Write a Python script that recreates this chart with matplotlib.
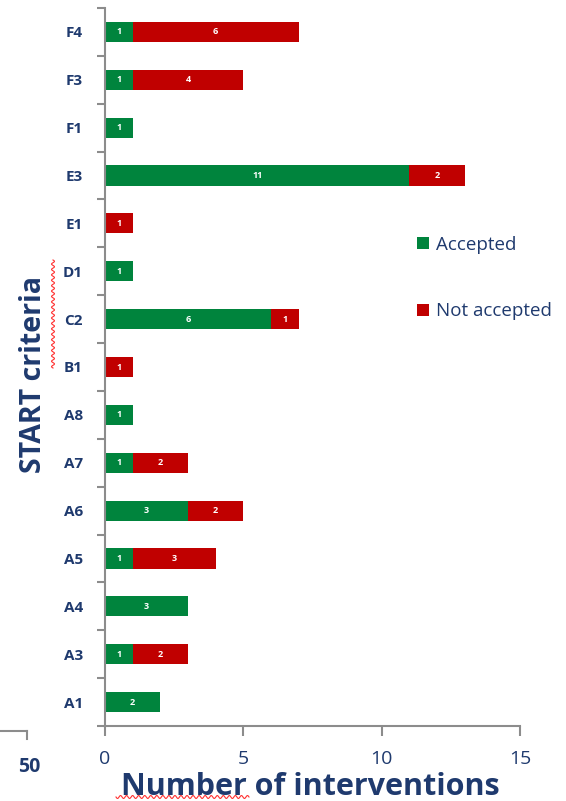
import numpy as np
import matplotlib.pyplot as plt
from matplotlib.lines import Line2D

criteria = ['A1', 'A3', 'A4', 'A5', 'A6', 'A7', 'A8', 'B1', 'C2', 'D1', 'E1', 'E3', 'F1', 'F3', 'F4']
accepted = [2, 1, 3, 1, 3, 1, 1, 0, 6, 1, 0, 11, 1, 1, 1]
not_accepted = [0, 2, 0, 3, 2, 2, 0, 1, 1, 0, 1, 2, 0, 4, 6]
x_ticks = [0, 5, 10, 15]

GREEN = '#00843D'
RED = '#C00000'
NAVY = '#1F3A6E'
GREY = '#8C8C8C'

plt.rcParams['font.family'] = ['Open Sans', 'DejaVu Sans']

fig = plt.figure(figsize=(5.66, 8.01), dpi=100)
W, H = 566, 801
ax = fig.add_axes([105 / W, 1 - 726 / H, 415 / W, 718 / H])

y = np.arange(len(criteria))
acc = np.array(accepted)
nacc = np.array(not_accepted)
ax.barh(y, acc, height=0.42, color=GREEN, label='Accepted')
ax.barh(y, nacc, left=acc, height=0.42, color=RED, label='Not accepted')

# value labels inside the segments
for i in range(len(criteria)):
    if acc[i] > 0:
        ax.text(acc[i] / 2, y[i], str(acc[i]), ha='center', va='center',
                color='white', fontsize=6.5, fontweight='bold')
    if nacc[i] > 0:
        ax.text(acc[i] + nacc[i] / 2, y[i], str(nacc[i]), ha='center', va='center',
                color='white', fontsize=6.5, fontweight='bold')

ax.set_xlim(0, 15)
ax.set_ylim(-0.5, len(criteria) - 0.5)
ax.set_xticks(x_ticks)
ax.set_xticklabels([str(t) for t in x_ticks], color=NAVY, fontsize=14)
ax.set_yticks(y)
ax.set_yticklabels(criteria, color=NAVY, fontsize=11, fontweight='bold')
ax.tick_params(axis='y', length=0, pad=16)
ax.set_yticks(np.arange(-0.5, len(criteria)), minor=True)
ax.tick_params(axis='y', which='minor', length=6, color=GREY, width=1.5)
ax.tick_params(axis='x', length=7, color=GREY, width=1.5, direction='out', pad=10)

for s in ['top', 'right']:
    ax.spines[s].set_visible(False)
for s in ['left', 'bottom']:
    ax.spines[s].set_color(GREY)
    ax.spines[s].set_linewidth(1.5)

ax.set_ylabel('START criteria', color=NAVY, fontsize=20.5, fontweight='bold')
ax.yaxis.set_label_coords(-57 / 415, 0.49)
ax.set_xlabel('Number of interventions', color=NAVY, fontsize=22, fontweight='bold')
ax.xaxis.set_label_coords(0.495, -46 / 718)

leg = ax.legend(loc='center left', bbox_to_anchor=(0.712, 0.624), frameon=False,
                fontsize=13.5, labelspacing=2.6, handlelength=0.6, handleheight=0.6,
                handletextpad=0.4)
for t in leg.get_texts():
    t.set_color(NAVY)

# stray axis fragment at the lower left
fig.add_artist(Line2D([0, 27 / W], [1 - 731 / H, 1 - 731 / H], color=GREY, lw=1.5))
fig.add_artist(Line2D([27 / W, 27 / W], [1 - 731 / H, 1 - 739 / H], color=GREY, lw=1.5))
fig.text(29 / W, 1 - 767 / H, '50', color=NAVY, fontsize=14, fontweight='bold',
         ha='center', va='center')

# spell-check squiggles
t = np.linspace(0, 1, 200)
sx = 53 / W + 1.5 / W * np.sin(t * 2 * np.pi * 20)
sy = 1 - (260 + t * (368 - 260)) / H
fig.add_artist(Line2D(sx, sy, color='#FF3030', lw=0.8))
ux = (116 + t * (249 - 116)) / W
uy = 1 - (797 + 1.5 * np.sin(t * 2 * np.pi * 22)) / H
fig.add_artist(Line2D(ux, uy, color='#FF3030', lw=0.8))

fig.savefig('out.png', dpi=100)
